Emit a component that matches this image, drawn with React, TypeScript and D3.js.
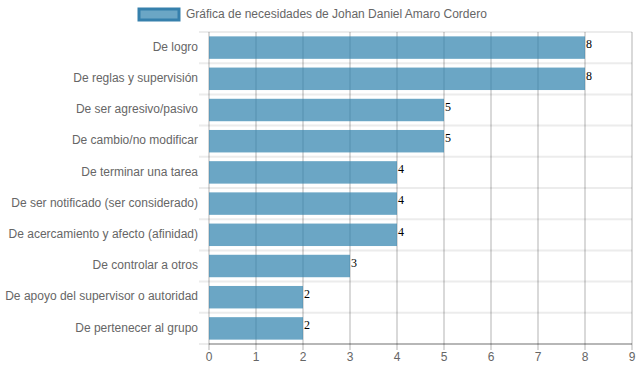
import React from "react";
import * as d3 from "d3";

const categories = [
  "De logro",
  "De reglas y supervisión",
  "De ser agresivo/pasivo",
  "De cambio/no modificar",
  "De terminar una tarea",
  "De ser notificado (ser considerado)",
  "De acercamiento y afecto (afinidad)",
  "De controlar a otros",
  "De apoyo del supervisor o autoridad",
  "De pertenecer al grupo",
];
const values = [8, 8, 5, 5, 4, 4, 4, 3, 2, 2];
const xTicks = [0, 1, 2, 3, 4, 5, 6, 7, 8, 9];
const seriesName = "Gráfica de necesidades de Johan Daniel Amaro Cordero";

const W = 639;
const H = 372;
const left = 209;
const right = 632;
const top = 32;
const bottom = 344;
const font = "'Liberation Sans', Arial, Helvetica, sans-serif";

export default function App() {
  const x = d3.scaleLinear().domain([0, 9]).range([left, right]);
  const y = d3.scaleBand().domain(categories).range([top, bottom]);
  const bh = y.bandwidth() * 0.72;
  const fill = "rgba(44,128,172,0.7)";

  return (
    <svg
      width={W}
      height={H}
      style={{ position: "absolute", left: 0, top: 0 }}
    >
      <rect width={W} height={H} fill="#fff" />
      {/* legend */}
      <rect x={139} y={9} width={40} height={11} fill={fill} stroke="rgb(54,128,172)" strokeWidth={3} />
      <text x={186} y={15} fontFamily={font} fontSize={12} fill="#666" dominantBaseline="middle">
        {seriesName}
      </text>
      {/* horizontal grid */}
      {d3.range(categories.length + 1).map((i) => {
        const yy = top + i * y.step();
        return (
          <line key={"h" + i} x1={199} x2={right} y1={yy} y2={yy} stroke="#ececec" strokeWidth={2} />
        );
      })}
      {/* vertical grid */}
      {xTicks.map((t) => (
        <line key={"v" + t} x1={x(t)} x2={x(t)} y1={top} y2={bottom + 6} stroke="rgba(0,0,0,0.3)" strokeWidth={1} />
      ))}
      <line x1={left} x2={right} y1={bottom} y2={bottom} stroke="rgba(0,0,0,0.45)" strokeWidth={1} />
      {/* bars */}
      {categories.map((c, i) => {
        const yc = y(c)! + y.bandwidth() / 2;
        return (
          <g key={c}>
            <rect x={x(0)} y={yc - bh / 2} width={x(values[i]) - x(0)} height={bh} fill={fill} />
            <text
              x={x(values[i]) + 1}
              y={yc - 2}
              fontFamily="'Liberation Serif', serif"
              fontSize={12}
              fill="#000"
              dominantBaseline="middle"
            >
              {values[i]}
            </text>
            <text
              x={198}
              y={yc}
              textAnchor="end"
              dominantBaseline="middle"
              fontFamily={font}
              fontSize={12}
              fill="#666"
            >
              {c}
            </text>
          </g>
        );
      })}
      {/* x tick labels */}
      {xTicks.map((t) => (
        <text
          key={"t" + t}
          x={x(t)}
          y={358}
          textAnchor="middle"
          dominantBaseline="middle"
          fontFamily={font}
          fontSize={12}
          fill="#666"
        >
          {t}
        </text>
      ))}
    </svg>
  );
}
